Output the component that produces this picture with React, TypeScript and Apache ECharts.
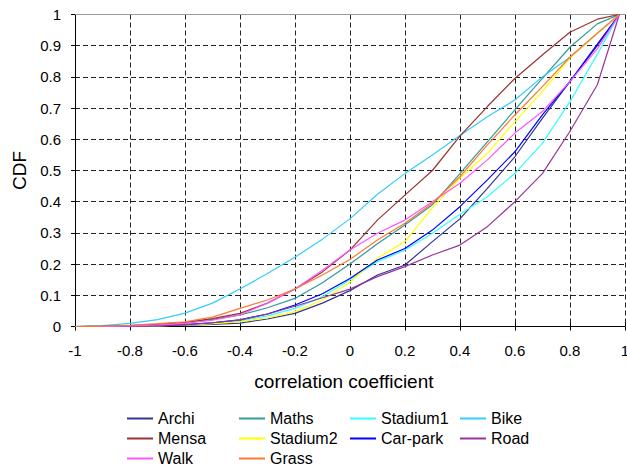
import React, { useEffect, useRef } from "react";
import * as echarts from "echarts";

const xs = [-1, -0.9, -0.8, -0.7, -0.6, -0.5, -0.4, -0.3, -0.2, -0.1, 0, 0.1, 0.2, 0.3, 0.4, 0.5, 0.6, 0.7, 0.8, 0.9, 0.98];

const archi = [0, 0, 0.001, 0.002, 0.004, 0.007, 0.011, 0.024, 0.042, 0.075, 0.115, 0.165, 0.197, 0.272, 0.345, 0.443, 0.544, 0.667, 0.785, 0.9, 1];
const maths = [0, 0.001, 0.003, 0.007, 0.013, 0.023, 0.037, 0.06, 0.09, 0.14, 0.2, 0.265, 0.325, 0.39, 0.49, 0.592, 0.694, 0.795, 0.895, 0.97, 1];
const stadium1 = [0, 0, 0.001, 0.003, 0.006, 0.01, 0.018, 0.034, 0.058, 0.095, 0.15, 0.208, 0.245, 0.299, 0.36, 0.416, 0.491, 0.587, 0.72, 0.873, 1];
const bike = [0, 0.003, 0.01, 0.022, 0.043, 0.075, 0.12, 0.17, 0.222, 0.28, 0.345, 0.424, 0.49, 0.55, 0.612, 0.672, 0.726, 0.8, 0.863, 0.94, 1];
const mensa = [0, 0.001, 0.003, 0.007, 0.013, 0.025, 0.042, 0.075, 0.12, 0.175, 0.245, 0.341, 0.421, 0.5, 0.61, 0.705, 0.795, 0.87, 0.943, 0.985, 1];
const stadium2 = [0, 0, 0.001, 0.002, 0.005, 0.009, 0.015, 0.028, 0.047, 0.085, 0.142, 0.219, 0.272, 0.38, 0.475, 0.555, 0.656, 0.753, 0.86, 0.94, 1];
const carPark = [0, 0, 0.001, 0.003, 0.006, 0.012, 0.021, 0.04, 0.069, 0.105, 0.154, 0.213, 0.25, 0.309, 0.384, 0.47, 0.56, 0.678, 0.785, 0.905, 1];
const road = [0, 0, 0.001, 0.003, 0.006, 0.012, 0.021, 0.04, 0.065, 0.092, 0.12, 0.16, 0.192, 0.229, 0.261, 0.32, 0.4, 0.49, 0.625, 0.775, 1];
const walk = [0, 0, 0.002, 0.005, 0.01, 0.02, 0.037, 0.075, 0.12, 0.18, 0.245, 0.299, 0.341, 0.4, 0.459, 0.534, 0.62, 0.689, 0.785, 0.89, 1];
const grass = [0, 0.001, 0.004, 0.009, 0.015, 0.03, 0.058, 0.085, 0.12, 0.165, 0.215, 0.277, 0.331, 0.395, 0.48, 0.582, 0.678, 0.769, 0.863, 0.94, 1];

const names = ["Archi", "Maths", "Stadium1", "Bike", "Mensa", "Stadium2", "Car-park", "Road", "Walk", "Grass"];
const values = [archi, maths, stadium1, bike, mensa, stadium2, carPark, road, walk, grass];
const colors = ["#333399", "#339999", "#33FFFF", "#33CCFF", "#993333", "#FFFF00", "#0000FF", "#993399", "#FF55FF", "#FF7733"];

const legendCols = [127, 239, 350, 460];
const legendRows = [410, 430, 450];

export default function App() {
  const ref = useRef<HTMLDivElement>(null);
  useEffect(() => {
    if (!ref.current) return;
    const chart = echarts.init(ref.current, undefined, { renderer: "svg" });
    const font = "'Liberation Sans', Arial, sans-serif";
    const legends = names.map((n, i) => ({
      data: [n],
      left: legendCols[i % 4],
      top: legendRows[Math.floor(i / 4)],
      orient: "horizontal",
      padding: 0,
      itemWidth: 26,
      itemHeight: 2,
      icon: "rect",
      selectedMode: false,
      textStyle: { fontSize: 16, fontFamily: font, color: "#000", lineHeight: 17 },
    }));
    const series = names.map((n, i) => ({
      name: n,
      type: "line",
      xAxisIndex: 0,
      yAxisIndex: 0,
      symbol: "none",
      data: xs.map((x, j) => [x, values[i][j]]),
      lineStyle: { color: colors[i], width: 1.2 },
      itemStyle: { color: colors[i] },
    }));
    chart.setOption({
      animation: false,
      textStyle: { fontFamily: font },
      grid: { left: 75, top: 14.5, right: 3, bottom: 140.5 },
      legend: legends,
      xAxis: [
        {
          type: "value",
          min: -1,
          max: 1,
          interval: 0.2,
          position: "bottom",
          name: "correlation coefficient",
          nameLocation: "middle",
          nameGap: 45,
          nameTextStyle: { fontSize: 19, color: "#000", fontFamily: font, padding: [0, 12, 0, 0] },
          axisLine: { show: true, onZero: false, lineStyle: { color: "#000", width: 1 } },
          axisTick: { show: true, length: 4, lineStyle: { color: "#000" } },
          axisLabel: { fontSize: 15, color: "#000", margin: 16, fontFamily: font },
          splitLine: { show: true, lineStyle: { color: "#222", type: [5, 3], width: 1 } },
        },
        {
          type: "value",
          min: -1,
          max: 1,
          interval: 0.2,
          position: "bottom",
          axisLine: { show: false, onZero: false },
          axisTick: { show: true, inside: true, length: 4, lineStyle: { color: "#000" } },
          axisLabel: { show: false },
          splitLine: { show: false },
        },
        {
          type: "value",
          min: -1,
          max: 1,
          position: "top",
          axisLine: { show: true, onZero: false, lineStyle: { color: "#999", width: 1 } },
          axisTick: { show: false },
          axisLabel: { show: false },
          splitLine: { show: false },
        },
      ],
      yAxis: {
        type: "value",
        min: 0,
        max: 1,
        interval: 0.1,
        name: "CDF",
        nameLocation: "middle",
        nameGap: 45,
        nameTextStyle: { fontSize: 19, color: "#000", fontFamily: font },
        axisLine: { show: true, onZero: false, lineStyle: { color: "#000", width: 1 } },
        axisTick: { show: true, length: 4, lineStyle: { color: "#000" } },
        axisLabel: { fontSize: 15, color: "#000", margin: 14, fontFamily: font },
        splitLine: { show: true, lineStyle: { color: "#222", type: [5, 3], width: 1 } },
      },
      series,
    });
    return () => chart.dispose();
  }, []);
  return (
    <div style={{ position: "fixed", left: 0, top: 0, width: 627, height: 467, overflow: "hidden", background: "#fff" }}>
      <div ref={ref} style={{ width: 632, height: 467 }} />
    </div>
  );
}
